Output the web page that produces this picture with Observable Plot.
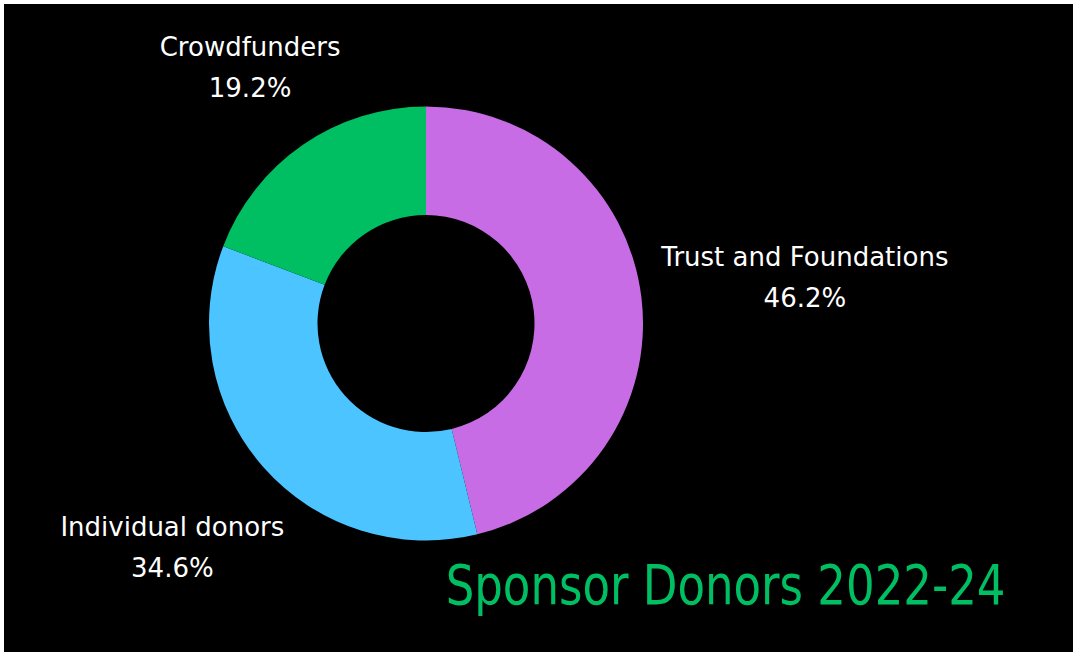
<!DOCTYPE html>
<html><head><meta charset="utf-8">
<script src="https://cdn.jsdelivr.net/npm/d3@7"></script>
<script src="https://cdn.jsdelivr.net/npm/@observablehq/plot@0.6"></script>
<style>
html,body{margin:0;padding:0;background:#fff;overflow:hidden;}
#chart{position:absolute;left:4px;top:4px;width:1069px;height:648px;background:#000;}
#chart svg{display:block;}
</style></head><body><div id="chart"></div>
<script>
// ---- data ----
const categories = ["Trust and Foundations", "Individual donors", "Crowdfunders"];
const shares = [46.2, 34.6, 19.2];
const colors = ["#c86ce6", "#4bc4ff", "#00bf63"];
const title = "Sponsor Donors 2022-24";

// ---- layout ----
const W = 1069, H = 648;
const cx = 422, cy = 319.5;
const outerR = 217, innerR = 108.5, labelGap = 235, halfH = 30;
const labelFontSize = 26, labelFamily = "DejaVu Sans";
const titleSize = 55, titleWidth = 560, titleRight = 1001, titleBaseline = 599;

const data = categories.map((c, i) => ({
  category: c, share: shares[i], color: colors[i],
  label: `${c}\n${shares[i].toFixed(1)}%`
}));
const arcs = d3.pie().sort(null).value(d => d.share)(data);

// label placement: outside the ring, box nearest edge at labelGap from center
const ctx = document.createElement("canvas").getContext("2d");
ctx.font = `${labelFontSize}px '${labelFamily}'`;
arcs.forEach(p => {
  const a = (p.startAngle + p.endAngle) / 2;
  const ux = Math.sin(a), uy = -Math.cos(a);
  const halfW = d3.max(p.data.label.split("\n"), s => ctx.measureText(s).width) / 2;
  const r = labelGap + halfW * Math.abs(ux) + halfH * Math.abs(uy);
  p.data.lx = ux * r;
  p.data.ly = uy * r;
});
ctx.font = `${titleSize}px '${labelFamily}'`;
const titleScale = titleWidth / ctx.measureText(title).width;
const titleData = [{text: title, x: titleRight - cx, y: titleBaseline - cy}];

// donut mark drawn through Plot's x/y scales
function donut(index, scales) {
  const x0 = scales.x(0), y0 = scales.y(0);
  const k = scales.x(1) - scales.x(0);
  const arc = d3.arc().innerRadius(innerR * k).outerRadius(outerR * k);
  const g = d3.create("svg:g").attr("aria-label", "donut").attr("transform", `translate(${x0},${y0})`);
  g.selectAll("path").data(arcs).join("path")
    .attr("d", arc)
    .attr("fill", d => d.data.color);
  return g.node();
}

const chart = Plot.plot({
  width: W, height: H, margin: 0,
  style: {background: "#000", color: "#fff"},
  x: {domain: [-cx, W - cx], axis: null},
  y: {domain: [-cy, H - cy], reverse: true, axis: null},
  marks: [
    donut,
    Plot.text(data, {
      x: "lx", y: "ly", text: "label", dy: -5,
      fill: "#fff", fontSize: labelFontSize, fontFamily: labelFamily,
      lineHeight: 1.58, textAnchor: "middle", lineAnchor: "middle"
    }),
    Plot.text(titleData, {
      x: "x", y: "y", text: "text",
      fill: "#00bf63", fontSize: titleSize, fontFamily: labelFamily,
      textAnchor: "end", lineAnchor: "bottom"
    })
  ]
});
document.getElementById("chart").appendChild(chart);
// condense the title horizontally (the reference uses a narrow hand-drawn face)
d3.select(chart).selectAll("text").filter(function() { return this.textContent === title; })
  .each(function() {
    const t = this.getAttribute("transform");
    if (t && t.includes("translate")) {
      this.setAttribute("transform", `${t} scale(${titleScale},1)`);
    } else {
      const x = +this.getAttribute("x") || 0, y = +this.getAttribute("y") || 0;
      this.setAttribute("x", 0); this.setAttribute("y", 0);
      this.setAttribute("transform", `translate(${x},${y}) scale(${titleScale},1)`);
    }
  });
</script></body></html>
